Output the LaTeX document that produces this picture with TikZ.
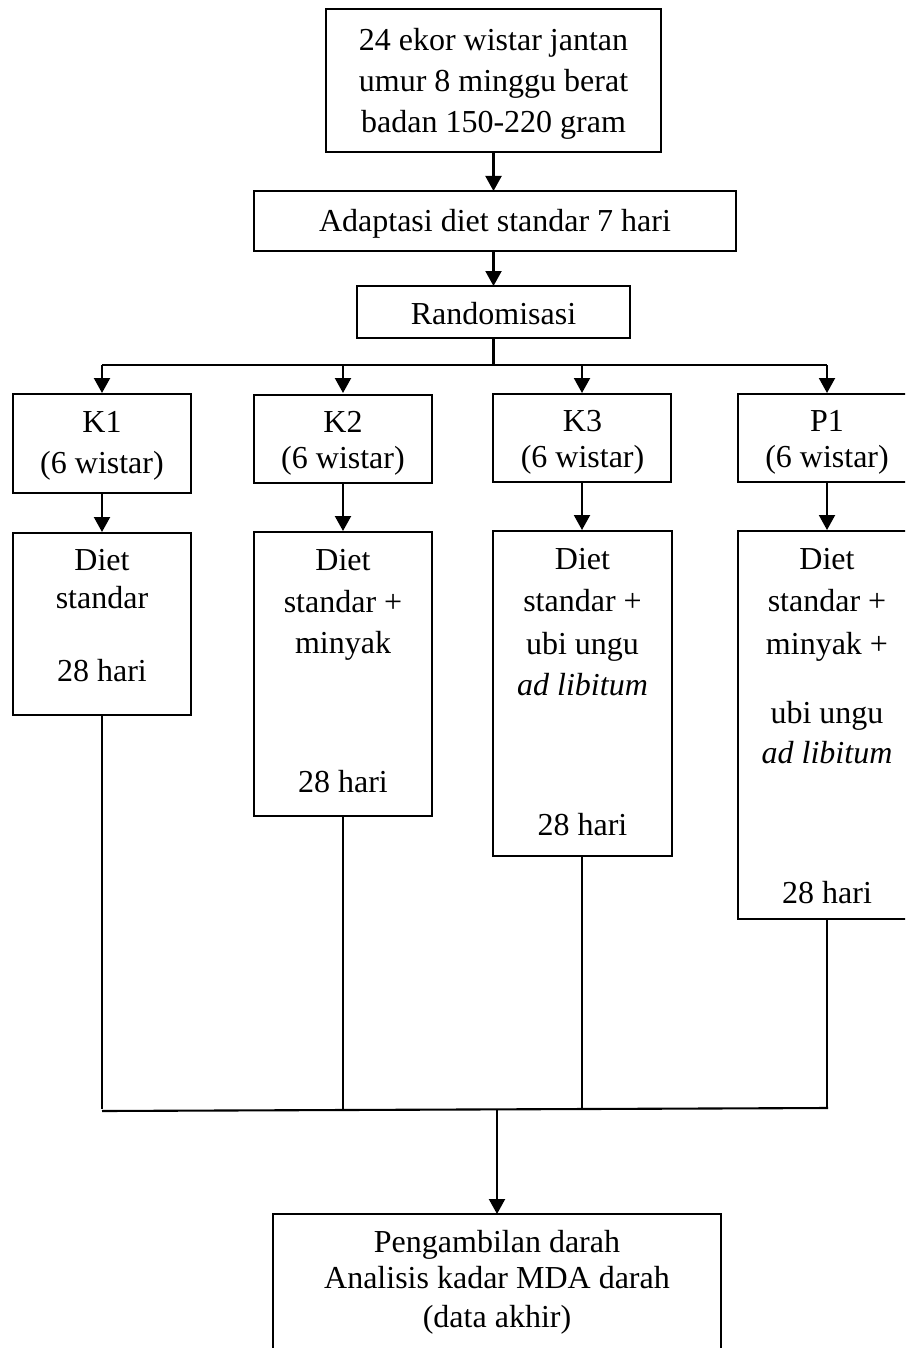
\documentclass[tikz,border=0pt]{standalone}
\usepackage{fontspec}
\setmainfont{Liberation Serif}
\usetikzlibrary{arrows.meta}
\begin{document}
\begin{tikzpicture}[x=1pt,y=-1pt,
  box/.style={draw, line width=2.1pt, inner sep=0pt, outer sep=0pt, anchor=north west},
  openbox/.style={inner sep=0pt, outer sep=0pt, anchor=north west},
  txt/.style={font=\fontsize{32}{38}\selectfont, inner sep=0pt, anchor=base},
  conn/.style={line width=2.1pt},
  arr/.style={line width=2.1pt, -{Triangle[length=15pt,width=16pt]}}]
\useasboundingbox (0,0) rectangle (905,1348);
\clip (0,0) rectangle (905,1348);
\fill[white] (0,0) rectangle (905,1348);
% boxes
\node[box, minimum width=335pt, minimum height=143pt] (top) at (326,9) {};
\node[box, minimum width=482pt, minimum height=60pt] (adapt) at (254,191) {};
\node[box, minimum width=273pt, minimum height=52pt] (rand) at (357,286) {};
\node[box, minimum width=178pt, minimum height=99pt] (k1) at (13,394) {};
\node[box, minimum width=178pt, minimum height=88pt] (k2) at (254,395) {};
\node[box, minimum width=178pt, minimum height=88pt] (k3) at (493,394) {};
\node[openbox, minimum width=178pt, minimum height=88pt] (p1) at (738,394) {};
\node[box, minimum width=178pt, minimum height=182pt] (k1d) at (13,533) {};
\node[box, minimum width=178pt, minimum height=284pt] (k2d) at (254,532) {};
\node[box, minimum width=179pt, minimum height=325pt] (k3d) at (493,531) {};
\node[openbox, minimum width=178pt, minimum height=388pt] (p1d) at (738,531) {};
\node[openbox, minimum width=448pt, minimum height=170pt] (fin) at (273,1214) {};
% boxes cut by the page edge (drawn open on the cut side)
\draw[conn] ([xshift=20pt]p1.north east) -- (p1.north west) -- (p1.south west) -- ([xshift=20pt]p1.south east);
\draw[conn] ([xshift=20pt]p1d.north east) -- (p1d.north west) -- (p1d.south west) -- ([xshift=20pt]p1d.south east);
\draw[conn] ([yshift=20pt]fin.south west) -- (fin.north west) -- (fin.north east) -- ([yshift=20pt]fin.south east);
% texts
\node[txt] (ta) at (493.5,51) {24 ekor wistar jantan};
\node[txt] (tb) at (493.5,92) {umur 8 minggu berat};
\node[txt] (tc) at (493.5,133) {badan 150-220 gram};
\node[txt] (td) at (495,232) {Adaptasi diet standar 7 hari};
\node[txt] (te) at (493.5,324) {Randomisasi};
\node[txt] (k1a) at (102,432) {K1};
\node[txt] (k1b) at (102,473) {(6 wistar)};
\node[txt] (k2a) at (343,432) {K2};
\node[txt] (k2b) at (343,468) {(6 wistar)};
\node[txt] (k3a) at (582.5,431) {K3};
\node[txt] (k3b) at (582.5,467) {(6 wistar)};
\node[txt] (p1a) at (827,431) {P1};
\node[txt] (p1b) at (827,467) {(6 wistar)};
\node[txt] (k1da) at (102,570) {Diet};
\node[txt] (k1db) at (102,608) {standar};
\node[txt] (k1dc) at (102,681) {28 hari};
\node[txt] (k2da) at (343,570) {Diet};
\node[txt] (k2db) at (343,612) {standar +};
\node[txt] (k2dc) at (343,653) {minyak};
\node[txt] (k2dd) at (343,792) {28 hari};
\node[txt] (k3da) at (582.5,569) {Diet};
\node[txt] (k3db) at (582.5,611) {standar +};
\node[txt] (k3dc) at (582.5,654) {ubi ungu};
\node[txt] (k3dd) at (582.5,695) {\itshape ad libitum};
\node[txt] (k3de) at (582.5,835) {28 hari};
\node[txt] (p1da) at (827,569) {Diet};
\node[txt] (p1db) at (827,611) {standar +};
\node[txt] (p1dc) at (827,654) {minyak +};
\node[txt] (p1dd) at (827,723) {ubi ungu};
\node[txt] (p1de) at (827,763) {\itshape ad libitum};
\node[txt] (p1df) at (827,903) {28 hari};
\node[txt] (fa) at (497,1252) {Pengambilan darah};
\node[txt] (fb) at (497,1288) {Analisis kadar MDA darah};
\node[txt] (fc) at (497,1327) {(data akhir)};
% connectors
\coordinate (tbus) at (494,365);
\coordinate (bl) at (102,1111);
\coordinate (br) at (828,1108);
\coordinate (bm) at (497,1109);
\coordinate (c1) at (102,393);
\coordinate (c2) at (343,393);
\coordinate (c3) at (582,393);
\coordinate (c4) at (827,393);
\coordinate (d1) at (102,532);
\coordinate (d2) at (343,531);
\coordinate (d3) at (582,530);
\coordinate (d4) at (827,530);
\draw[arr] (top.south -| rand.north) -- (rand.north |- adapt.north);
\draw[arr] (rand.north |- adapt.south) -- (rand.north);
\draw[conn] (rand.south) -- (rand.south |- tbus);
\draw[conn] (c1 |- tbus) -- (c4 |- tbus);
\draw[arr] (c1 |- tbus) -- (c1);
\draw[arr] (c2 |- tbus) -- (c2);
\draw[arr] (c3 |- tbus) -- (c3);
\draw[arr] (c4 |- tbus) -- (c4);
\draw[arr] (d1 |- k1.south) -- (d1);
\draw[arr] (d2 |- k2.south) -- (d2);
\draw[arr] (d3 |- k3.south) -- (d3);
\draw[arr] (d4 |- p1.south) -- (d4);
\draw[conn] (d1 |- k1d.south) -- ([yshift=2pt]d1 |- bl);
\draw[conn] (d2 |- k2d.south) -- ([yshift=2pt]d2 |- bl);
\draw[conn] (d3 |- k3d.south) -- (d3 |- br);
\draw[conn] (d4 |- p1d.south) -- (d4 |- br);
\draw[conn] (bl) -- (br);
\draw[arr] (fin.north |- bm) -- (fin.north);
\end{tikzpicture}
\end{document}
